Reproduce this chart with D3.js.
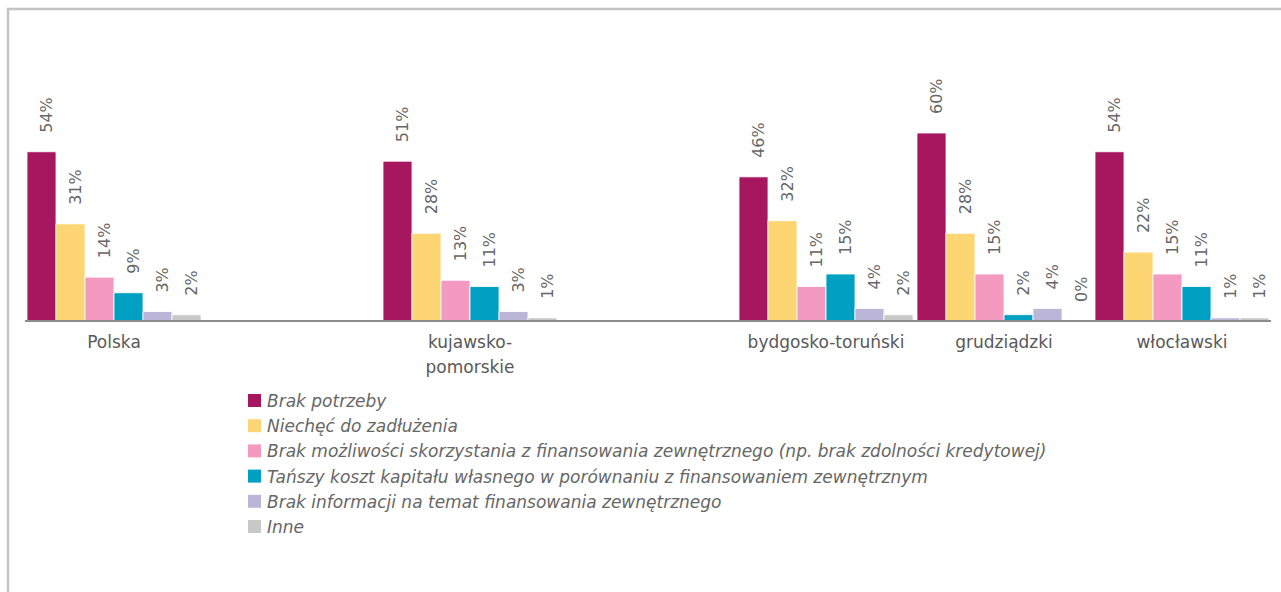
<!DOCTYPE html>
<html>
<head>
<meta charset="utf-8">
<script src="https://cdn.jsdelivr.net/npm/d3@7"></script>
<style>
  body { margin: 0; background: #fff; }
  text { font-family: "DejaVu Sans", sans-serif; }
</style>
</head>
<body>
<div id="chart"></div>
<script>
var categories = ["Polska", "kujawsko-pomorskie", "bydgosko-toruński", "grudziądzki", "włocławski"]
var categoryLines = [["Polska"], ["kujawsko-", "pomorskie"], ["bydgosko-toruński"], ["grudziądzki"], ["włocławski"]]
// empty slots on the category axis, like in the original
var slots = ["Polska", "gap1", "kujawsko-pomorskie", "gap2", "bydgosko-toruński", "grudziądzki", "włocławski"]

var seriesNames = [
  "Brak potrzeby",
  "Niechęć do zadłużenia",
  "Brak możliwości skorzystania z finansowania zewnętrznego (np. brak zdolności kredytowej)",
  "Tańszy koszt kapitału własnego w porównaniu z finansowaniem zewnętrznym",
  "Brak informacji na temat finansowania zewnętrznego",
  "Inne"
]
var brakPotrzeby = [54, 51, 46, 60, 54]
var niechec      = [31, 28, 32, 28, 22]
var brakMozliwosci = [14, 13, 11, 15, 15]
var tanszyKoszt  = [9, 11, 15, 2, 11]
var brakInformacji = [3, 3, 4, 4, 1]
var inne         = [2, 1, 2, 0, 1]
var seriesValues = [brakPotrzeby, niechec, brakMozliwosci, tanszyKoszt, brakInformacji, inne]

var colors = ["#a7175f", "#fdd673", "#f49ac1", "#00a0c2", "#bbb6d8", "#c8c8c8"]

var width = 1281, height = 592

var svg = d3.select("#chart").append("svg")
  .attr("width", width)
  .attr("height", height)

// grey frame (goes off the right and bottom edge)
svg.append("rect")
  .attr("x", 8).attr("y", 9)
  .attr("width", 1300).attr("height", 600)
  .style("fill", "none")
  .style("stroke", "#c3c3c3")
  .style("stroke-width", 2.5)

var xScale = d3.scaleBand().domain(slots).range([25, 1271])
var xInner = d3.scaleBand().domain(d3.range(seriesNames.length)).range([2, xScale.bandwidth() - 2])
var yScale = d3.scaleLinear().domain([0, 60]).range([321, 133])

var color = d3.scaleOrdinal().domain(d3.range(seriesNames.length)).range(colors)

var rows = []
categories.forEach(function(c, ci) {
  seriesValues.forEach(function(vals, si) {
    rows.push({cat: c, s: si, v: vals[ci]})
  })
})

var g = svg.append("g")

g.selectAll(".bar")
  .data(rows)
  .enter()
  .append("rect")
  .attr("x", function(d) { return xScale(d.cat) + xInner(d.s) })
  .attr("y", function(d) { return yScale(d.v) })
  .attr("width", xInner.bandwidth())
  .attr("height", function(d) { return yScale(0) - yScale(d.v) })
  .style("fill", function(d) { return color(d.s) })
  .style("stroke", "#fff")
  .style("stroke-width", 0.8)

// value labels, turned upwards
g.selectAll(".lbl")
  .data(rows)
  .enter()
  .append("text")
  .attr("transform", function(d) {
    var cx = xScale(d.cat) + xInner(d.s) + xInner.bandwidth() / 2 + 10
    return "translate(" + cx + "," + (yScale(d.v) - 19) + ") rotate(-90)"
  })
  .style("font-size", "16px")
  .style("fill", "#666")
  .text(function(d) { return d.v + "%" })

// category axis line
var axis = d3.axisBottom(xScale).tickSize(0).tickFormat("")
var ax = svg.append("g").attr("transform", "translate(0,321)").call(axis)
ax.select(".domain").attr("d", "M25,0H1271").style("stroke", "#8c8c8c").style("stroke-width", 2)

categories.forEach(function(c, ci) {
  var t = svg.append("text")
    .attr("x", xScale(c) + xScale.bandwidth() / 2)
    .attr("y", 348)
    .style("text-anchor", "middle")
    .style("font-size", "17px")
    .style("fill", "#595959")
  categoryLines[ci].forEach(function(line, li) {
    t.append("tspan")
      .attr("x", xScale(c) + xScale.bandwidth() / 2)
      .attr("dy", li == 0 ? 0 : 25)
      .text(line)
  })
})

// legend
var legend = svg.selectAll(".legends")
  .data(seriesNames)
  .enter()
  .append("g")
  .attr("transform", function(d, i) { return "translate(248," + (401 + i * 25.2) + ")" })

legend.append("rect")
  .attr("x", 0).attr("y", -7)
  .attr("width", 13).attr("height", 13)
  .style("fill", function(d, i) { return color(i) })

legend.append("text")
  .attr("x", 19).attr("y", 6)
  .style("font-size", "17px")
  .style("font-style", "italic")
  .style("fill", "#666")
  .text(function(d) { return d })
</script>
</body>
</html>
